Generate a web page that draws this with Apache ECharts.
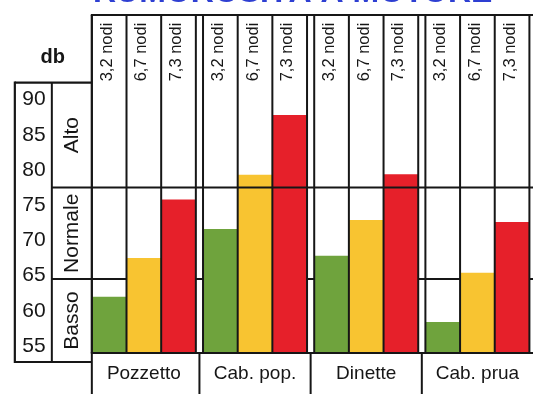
<!DOCTYPE html>
<html>
<head>
<meta charset="utf-8">
<script src="https://cdn.jsdelivr.net/npm/echarts@6/dist/echarts.min.js"></script>
<style>
  html, body { margin: 0; padding: 0; background: #fff; }
  #chart { width: 533px; height: 394px; }
</style>
</head>
<body>
<div id="chart"></div>
<script>
// dati (db)
var categories = ['Pozzetto', 'Cab. pop.', 'Dinette', 'Cab. prua'];
var speeds = ['3,2 nodi', '6,7 nodi', '7,3 nodi'];
var slow = [62.0, 71.6, 67.8, 58.4];
var medium = [67.5, 79.3, 72.9, 65.4];
var fast = [75.8, 87.8, 79.4, 72.6];
var tickValues = [55, 60, 65, 70, 75, 80, 85, 90];
var zoneNames = ['Basso', 'Normale', 'Alto'];
var zoneEdges = [54, 64.5, 77.5, 92.4];

var Y_MIN = 54, Y_MAX = 102;
var BAR_W = 34.67;
var INK = '#161616';
var FONT = '"Liberation Sans", Arial, sans-serif';

function seg(x1, y1, x2, y2, w) {
    return {
        type: 'line',
        shape: { x1: x1, y1: y1, x2: x2, y2: y2 },
        style: { stroke: INK, lineWidth: w || 2 }
    };
}

function vtext(txt, x, y, size, weight) {
    return {
        type: 'text',
        x: x, y: y,
        rotation: Math.PI / 2,
        style: {
            text: txt,
            fill: INK,
            font: (weight || 'normal') + ' ' + size + 'px ' + FONT,
            align: 'center',
            verticalAlign: 'middle'
        }
    };
}

// linea di zona "Basso/Normale": sotto le barre
function renderBack(params, api) {
    var y = api.coord([0, zoneEdges[1]])[1];
    var x0 = api.coord([0, Y_MIN])[0] - 1.5 * BAR_W;
    return { type: 'group', children: [seg(x0 - 40, y, 600, y)] };
}

// tabella: colonne, intestazioni, riquadro a sinistra, caselle in basso
function renderFront(params, api) {
    var ch = [];
    var yTop = api.coord([0, Y_MAX])[1];
    var yBot = api.coord([0, Y_MIN])[1];
    var catW = api.size([1, 0])[0];
    var start = api.coord([0, Y_MIN])[0] - 1.5 * BAR_W;

    categories.forEach(function (c, i) {
        var cx = api.coord([i, Y_MIN])[0];
        var x0 = cx - 1.5 * BAR_W;
        for (var j = 0; j <= 3; j++) {
            ch.push(seg(x0 + j * BAR_W, yTop, x0 + j * BAR_W, yBot));
        }
        speeds.forEach(function (s, j) {
            ch.push(vtext(s, x0 + (j + 0.5) * BAR_W - 2, yTop + 37, 16.5));
        });
        if (i > 0) {
            ch.push(seg(cx - catW / 2, yBot, cx - catW / 2, yBot + 50));
        }
    });
    ch.push(seg(start, yBot + 50, start, yTop));
    ch.push(seg(start - 1, yTop, 600, yTop));
    ch.push(seg(start - 1, yBot, 600, yBot));

    // riquadro scala db / zone
    var boxTop = api.coord([0, zoneEdges[3]])[1];
    var boxBot = yBot + 9;
    var xa = start - 77, xb = start - 40;
    ch.push(seg(xa, boxTop, start, boxTop, 2.2));
    ch.push(seg(xa, boxBot, start, boxBot, 2.2));
    ch.push(seg(xa, boxTop - 1, xa, boxBot + 1, 2.2));
    ch.push(seg(xb, boxTop, xb, boxBot));
    ch.push(seg(xb, api.coord([0, zoneEdges[2]])[1], 600, api.coord([0, zoneEdges[2]])[1]));
    zoneNames.forEach(function (z, k) {
        var y1 = k === 0 ? boxBot : api.coord([0, zoneEdges[k]])[1];
        var y2 = api.coord([0, zoneEdges[k + 1]])[1];
        ch.push(vtext(z, (xb + start) / 2, (y1 + y2) / 2, 21));
    });
    ch.push({
        type: 'text', x: xb + 1, y: boxTop - 25,
        style: { text: 'db', fill: INK, font: 'bold 20px ' + FONT, align: 'center', verticalAlign: 'middle' }
    });
    return { type: 'group', children: ch };
}

var chart = echarts.init(document.getElementById('chart'));
var option = {
    animation: false,
    backgroundColor: '#fff',
    title: {
        text: 'RUMOROSITÀ A MOTORE',
        left: 88,
        top: -28,
        textStyle: { color: '#2e3fd2', fontSize: 32, fontWeight: 'bold', fontFamily: FONT }
    },
    grid: { left: 88.25, right: -9.25, top: 15, bottom: 41 },
    xAxis: {
        type: 'category',
        data: categories,
        axisLine: { show: false },
        axisTick: { show: false },
        axisLabel: { color: INK, fontSize: 19, fontFamily: FONT, margin: 11 }
    },
    yAxis: {
        type: 'value',
        min: Y_MIN,
        max: Y_MAX,
        splitLine: { show: false },
        axisLine: { show: false },
        axisTick: { show: false },
        axisLabel: {
            customValues: tickValues,
            color: INK, fontSize: 21, fontFamily: FONT,
            align: 'left', margin: 66
        }
    },
    series: [
        { type: 'custom', z: 1, clip: false, renderItem: renderBack, data: [[0, Y_MIN]] },
        { name: speeds[0], type: 'bar', z: 2, barWidth: BAR_W, barGap: '0%', data: slow, itemStyle: { color: '#6fa33d' } },
        { name: speeds[1], type: 'bar', z: 2, barWidth: BAR_W, barGap: '0%', data: medium, itemStyle: { color: '#f8c431' } },
        { name: speeds[2], type: 'bar', z: 2, barWidth: BAR_W, barGap: '0%', data: fast, itemStyle: { color: '#e6202a' } },
        { type: 'custom', z: 5, clip: false, renderItem: renderFront, data: [[0, Y_MIN]] }
    ]
};
chart.setOption(option);
</script>
</body>
</html>
